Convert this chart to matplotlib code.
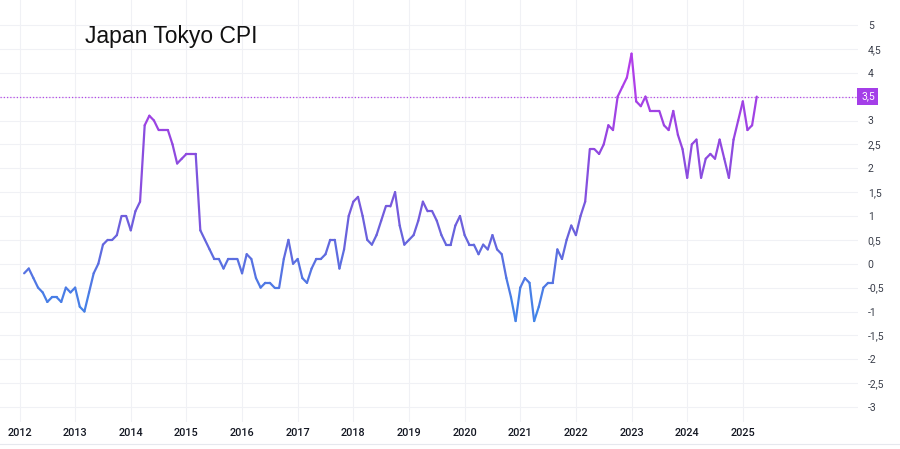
import numpy as np
import matplotlib
matplotlib.use("Agg")
import matplotlib.pyplot as plt
from matplotlib.collections import LineCollection
from matplotlib.colors import LinearSegmentedColormap
from matplotlib.lines import Line2D

# Tokyo CPI y/y (%), monthly, Feb 2012 .. Apr 2025
start_year = 2012
start_month = 2
cpi = [
    -0.2, -0.1, -0.3, -0.5, -0.6, -0.8, -0.7, -0.7, -0.8, -0.5, -0.6,   # 2012 Feb-Dec
    -0.5, -0.9, -1.0, -0.6, -0.2, 0.0, 0.4, 0.5, 0.5, 0.6, 1.0, 1.0,    # 2013
    0.7, 1.1, 1.3, 2.9, 3.1, 3.0, 2.8, 2.8, 2.8, 2.5, 2.1, 2.2,         # 2014
    2.3, 2.3, 2.3, 0.7, 0.5, 0.3, 0.1, 0.1, -0.1, 0.1, 0.1, 0.1,        # 2015
    -0.2, 0.2, 0.1, -0.3, -0.5, -0.4, -0.4, -0.5, -0.5, 0.1, 0.5, 0.0,  # 2016
    0.1, -0.3, -0.4, -0.1, 0.1, 0.1, 0.2, 0.5, 0.5, -0.1, 0.3, 1.0,     # 2017
    1.3, 1.4, 1.0, 0.5, 0.4, 0.6, 0.9, 1.2, 1.2, 1.5, 0.8, 0.4,         # 2018
    0.5, 0.6, 0.9, 1.3, 1.1, 1.1, 0.9, 0.6, 0.4, 0.4, 0.8, 1.0,         # 2019
    0.6, 0.4, 0.4, 0.2, 0.4, 0.3, 0.6, 0.3, 0.2, -0.3, -0.7, -1.2,      # 2020
    -0.5, -0.3, -0.4, -1.2, -0.9, -0.5, -0.4, -0.4, 0.3, 0.1, 0.5, 0.8, # 2021
    0.6, 1.0, 1.3, 2.4, 2.4, 2.3, 2.5, 2.9, 2.8, 3.5, 3.7, 3.9,         # 2022
    4.4, 3.4, 3.3, 3.5, 3.2, 3.2, 3.2, 2.9, 2.8, 3.2, 2.7, 2.4,         # 2023
    1.8, 2.5, 2.6, 1.8, 2.2, 2.3, 2.2, 2.6, 2.2, 1.8, 2.6, 3.0,         # 2024
    3.4, 2.8, 2.9, 3.5,                                                 # 2025
]
years = list(range(2012, 2026))
yticks = [-3, -2.5, -2, -1.5, -1, -0.5, 0, 0.5, 1, 1.5, 2, 2.5, 3, 3.5, 4, 4.5, 5]
last_label = "3,5"
title = "Japan Tokyo CPI"

W, H = 900, 449
fig = plt.figure(figsize=(W / 100, H / 100), dpi=100)
fig.patch.set_facecolor("white")

# plot area in pixels: x 0..858, y 0..422 (from top)
ax = fig.add_axes([0, 27 / H, 858 / W, 422 / H])
ax.set_facecolor("white")

vals = np.array(cpi)
t = start_year + (start_month - 1 + np.arange(len(vals))) / 12.0

pts = np.column_stack([t, vals]).reshape(-1, 1, 2)
segs = np.concatenate([pts[:-1], pts[1:]], axis=1)
cmap = LinearSegmentedColormap.from_list("cpi", ["#3d88ea", "#6a62dc", "#9446e0", "#b93cec"])
lc = LineCollection(segs, cmap=cmap, norm=plt.Normalize(-1.2, 4.4), linewidth=1.6,
                    capstyle="round", joinstyle="round")
lc.set_array((vals[:-1] + vals[1:]) / 2)
ax.add_collection(lc)

ax.axhline(vals[-1], color="#b54ae8", lw=0.9, ls=(0, (1, 1.6)))

px_per_year = 55.64
x0 = 2012 - 19.5 / px_per_year
ax.set_xlim(x0, x0 + 858 / px_per_year)
ax.set_ylim(-3 - 15 / 47.75, 5 + 25 / 47.75)

ax.set_xticks(years)
ax.set_xticklabels([])
ax.set_yticks(yticks)
ax.yaxis.tick_right()
ax.set_yticklabels(["" if v == 3.5 else (f"{v:g}".replace(".", ",")) for v in yticks],
                   fontsize=7.5, color="#3a3e4a", family="Roboto")
ax.tick_params(axis="y", length=0, pad=7)
ax.tick_params(axis="x", length=0)
ax.grid(True, color="#f0f1f5", lw=0.8)
ax.set_axisbelow(True)
for s in ax.spines.values():
    s.set_visible(False)

for y in years:
    xf = (y - x0) * px_per_year / W
    fig.text(xf, 1 - 433 / H, str(y), ha="center", va="center", fontsize=7.8,
             color="#131722", family="Roboto", weight="medium")

fig.add_artist(Line2D([0, 1], [1 - 444 / H, 1 - 444 / H], color="#e6e8ee", lw=0.8))

fig.text(861 / W, 1 - 96.5 / H, last_label, ha="left", va="center", fontsize=7.5,
         color="white", family="Roboto",
         bbox=dict(boxstyle="square,pad=0.35", fc="#a43ee8", ec="none"))

fig.text(85 / W, 1 - 37 / H, title, ha="left", va="center", fontsize=16.5,
         color="#111111", family="Liberation Sans")

fig.savefig("out.png", dpi=100, facecolor="white")
